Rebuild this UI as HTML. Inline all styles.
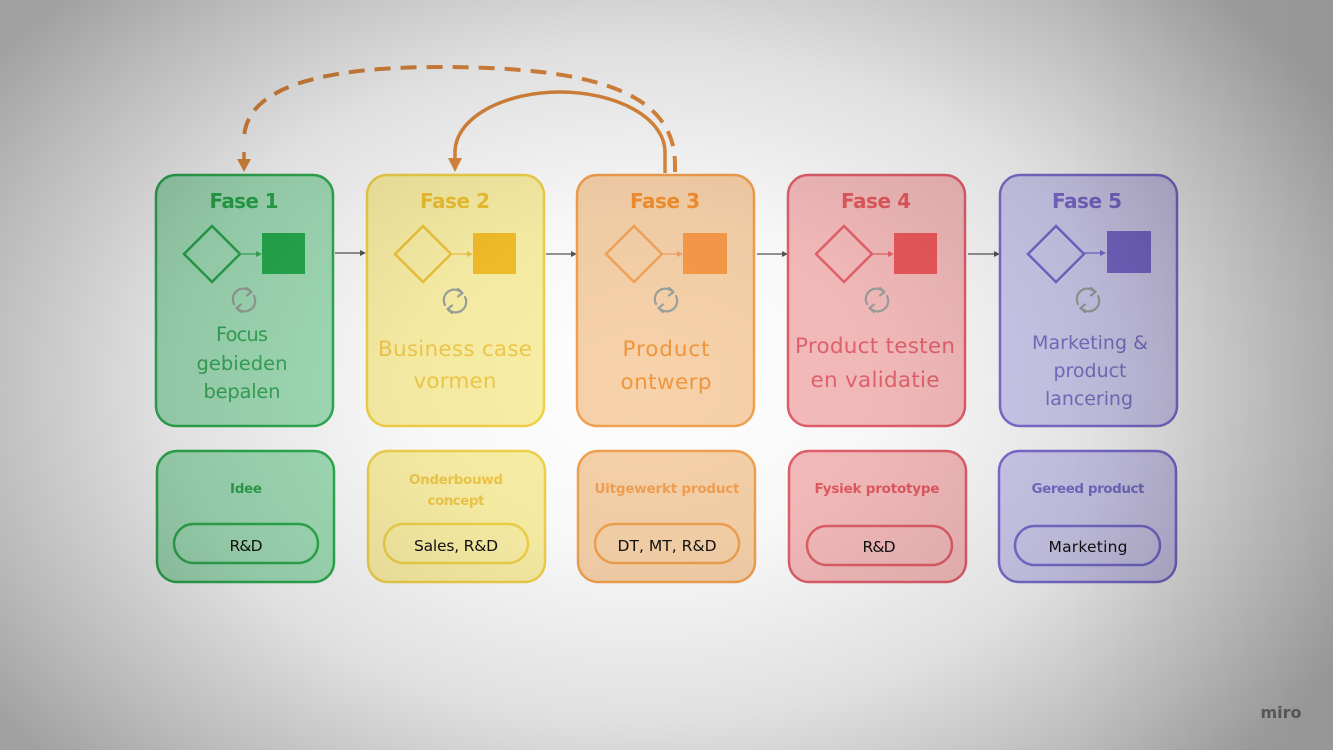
<!DOCTYPE html>
<html><head><meta charset="utf-8">
<style>
html,body{margin:0;padding:0;}
body{width:1333px;height:750px;overflow:hidden;background:#fff;position:relative;font-family:"DejaVu Sans","Liberation Sans",sans-serif;}
svg{position:absolute;left:0;top:0;}
svg text{font-family:"DejaVu Sans","Liberation Sans",sans-serif;}
#vig{position:absolute;left:0;top:0;width:1333px;height:750px;pointer-events:none;
background:
 linear-gradient(90deg, rgba(0,0,0,0) 80%, rgba(0,0,0,0.07) 100%),
 radial-gradient(ellipse 800px 560px at 645px 385px, rgba(0,0,0,0) 0%, rgba(0,0,0,0.03) 30%, rgba(0,0,0,0.12) 60%, rgba(0,0,0,0.27) 85%, rgba(0,0,0,0.37) 100%);}
</style></head><body>
<svg width="1333" height="750" viewBox="0 0 1333 750" xmlns="http://www.w3.org/2000/svg">
<defs>
<g id="ref" fill="none" stroke="#9aa29d" stroke-width="2.2" stroke-linecap="round" stroke-linejoin="round">
  <path d="M -10 4 A 10.5 10.5 0 0 1 7 -8"/>
  <path d="M 3 -12 L 7.5 -8 L 3 -4.5"/>
  <path d="M 10 -4 A 10.5 10.5 0 0 1 -7 8"/>
  <path d="M -3 12 L -7.5 8 L -3 4.5"/>
</g>
</defs>

<!-- arcs -->
<path d="M 675 172 L 675 165 C 675 96, 604 67, 440 67 C 303 67, 244 94, 244 140" fill="none" stroke="#e08a3e" stroke-width="4" stroke-dasharray="16 10"/>
<line x1="244" y1="152" x2="244" y2="162" stroke="#e08a3e" stroke-width="3.5"/>
<polygon points="237,159 251,159 244,172" fill="#e08a3e"/>
<path d="M 665 173 L 665 152 A 105 60 0 0 0 455 152 L 455 160" fill="none" stroke="#e08a3e" stroke-width="3.5"/>
<polygon points="448,158 462,158 455,172" fill="#e08a3e"/>

<!-- connectors between cards -->
<g stroke="#555" stroke-width="1.3" fill="#555">
  <line x1="335" y1="253" x2="361" y2="253"/><polygon points="360,250 366,253 360,256" stroke="none"/>
  <line x1="546" y1="254" x2="572" y2="254"/><polygon points="571,251 577,254 571,257" stroke="none"/>
  <line x1="757" y1="254" x2="783" y2="254"/><polygon points="782,251 788,254 782,257" stroke="none"/>
  <line x1="968" y1="254" x2="995" y2="254"/><polygon points="994,251 1000,254 994,257" stroke="none"/>
</g>

<!-- Card 1 -->
<rect x="156" y="175" width="177" height="251" rx="20" fill="#a5e2bb" stroke="#2fae52" stroke-width="2.5"/>
<text x="244" y="208" text-anchor="middle" font-size="20" font-weight="bold" fill="#28a84a" textLength="69">Fase 1</text>
<polygon points="212,226 240,254 212,282 184,254" fill="none" stroke="#2aa84e" stroke-width="2.5"/>
<line x1="240" y1="254" x2="257" y2="254" stroke="#3aae5a" stroke-width="1.2"/><polygon points="256,251 262,254 256,257" fill="#3aae5a"/>
<rect x="262" y="233" width="43" height="41" fill="#27ae4f"/>
<use href="#ref" x="244" y="300"/>
<g font-size="19.5" fill="#3aa85a" text-anchor="middle">
<text x="242" y="341" textLength="52">Focus</text>
<text x="242" y="370" textLength="91">gebieden</text>
<text x="242" y="398" textLength="77">bepalen</text>
</g>

<!-- Card 2 -->
<rect x="367" y="175" width="177" height="251" rx="20" fill="#fbf0a6" stroke="#f1d24a" stroke-width="2.5"/>
<text x="455" y="208" text-anchor="middle" font-size="20" font-weight="bold" fill="#f0c232" textLength="70">Fase 2</text>
<polygon points="423,226 451,254 423,282 395,254" fill="none" stroke="#efc43c" stroke-width="2.5"/>
<line x1="451" y1="254" x2="468" y2="254" stroke="#f0c444" stroke-width="1.2"/><polygon points="467,251 473,254 467,257" fill="#f0c444"/>
<rect x="473" y="233" width="43" height="41" fill="#f5bf2c"/>
<use href="#ref" x="455" y="301"/>
<g font-size="21.5" fill="#f1c94c" text-anchor="middle">
<text x="455" y="356" textLength="154">Business case</text>
<text x="455" y="388" textLength="83">vormen</text>
</g>

<!-- Card 3 -->
<rect x="577" y="175" width="177" height="251" rx="20" fill="#f7d2aa" stroke="#f2a150" stroke-width="2.5"/>
<text x="665" y="208" text-anchor="middle" font-size="20" font-weight="bold" fill="#f3902f" textLength="70">Fase 3</text>
<polygon points="634,226 662,254 634,282 606,254" fill="none" stroke="#f4a45a" stroke-width="2.5"/>
<line x1="662" y1="254" x2="678" y2="254" stroke="#f4a060" stroke-width="1.2"/><polygon points="677,251 683,254 677,257" fill="#f4a060"/>
<rect x="683" y="233" width="44" height="41" fill="#f89a4a"/>
<use href="#ref" x="666" y="300"/>
<g font-size="21.5" fill="#f0963e" text-anchor="middle">
<text x="666" y="356" textLength="87">Product</text>
<text x="666" y="389" textLength="91">ontwerp</text>
</g>

<!-- Card 4 -->
<rect x="788" y="175" width="177" height="251" rx="20" fill="#f8bdbd" stroke="#e2606a" stroke-width="2.5"/>
<text x="876" y="208" text-anchor="middle" font-size="20" font-weight="bold" fill="#e65a5e" textLength="70">Fase 4</text>
<polygon points="844,226 872,254 844,282 816,254" fill="none" stroke="#e8636b" stroke-width="2.5"/>
<line x1="872" y1="254" x2="889" y2="254" stroke="#e8646c" stroke-width="1.2"/><polygon points="888,251 894,254 888,257" fill="#e8646c"/>
<rect x="894" y="233" width="43" height="41" fill="#ef5a5c"/>
<use href="#ref" x="877" y="300"/>
<g font-size="21.5" fill="#e3636e" text-anchor="middle">
<text x="875" y="353" textLength="160">Product testen</text>
<text x="875" y="387" textLength="129">en validatie</text>
</g>

<!-- Card 5 -->
<rect x="1000" y="175" width="177" height="251" rx="20" fill="#d4d0f4" stroke="#7d70d4" stroke-width="2.5"/>
<text x="1087" y="208" text-anchor="middle" font-size="20" font-weight="bold" fill="#7a6bcf" textLength="70">Fase 5</text>
<polygon points="1056,226 1084,254 1056,282 1028,254" fill="none" stroke="#7a6cd2" stroke-width="2.5"/>
<line x1="1084" y1="253" x2="1101" y2="253" stroke="#7a6cd2" stroke-width="1.2"/><polygon points="1100,250 1106,253 1100,256" fill="#7a6cd2"/>
<rect x="1107" y="231" width="44" height="42" fill="#7b6ad0"/>
<use href="#ref" x="1088" y="300"/>
<g font-size="19" fill="#7d72c8" text-anchor="middle">
<text x="1090" y="349" textLength="116">Marketing &amp;</text>
<text x="1090" y="377" textLength="73">product</text>
<text x="1089" y="405" textLength="88">lancering</text>
</g>

<!-- Bottom cards -->
<rect x="157" y="451" width="177" height="131" rx="20" fill="#a5e2bb" stroke="#2fae52" stroke-width="2.5"/>
<text x="246" y="493" text-anchor="middle" font-size="13.5" font-weight="bold" fill="#2fa650" textLength="32">Idee</text>
<rect x="174" y="524" width="144" height="39" rx="19.5" fill="none" stroke="#2fae52" stroke-width="2.5"/>
<text x="246" y="551" text-anchor="middle" font-size="15.5" fill="#111" textLength="33">R&amp;D</text>

<rect x="368" y="451" width="177" height="131" rx="20" fill="#fbf0a6" stroke="#f1d24a" stroke-width="2.5"/>
<text x="456" y="484" text-anchor="middle" font-size="13.5" font-weight="bold" fill="#f0c84a" textLength="94">Onderbouwd</text>
<text x="456" y="505" text-anchor="middle" font-size="13.5" font-weight="bold" fill="#f0c84a" textLength="57">concept</text>
<rect x="384" y="524" width="144" height="39" rx="19.5" fill="none" stroke="#f1d24a" stroke-width="2.5"/>
<text x="456" y="551" text-anchor="middle" font-size="15.5" fill="#111" textLength="84">Sales, R&amp;D</text>

<rect x="578" y="451" width="177" height="131" rx="20" fill="#f7d2aa" stroke="#f2a150" stroke-width="2.5"/>
<text x="667" y="493" text-anchor="middle" font-size="13.5" font-weight="bold" fill="#f3a052" textLength="145">Uitgewerkt product</text>
<rect x="595" y="524" width="144" height="39" rx="19.5" fill="none" stroke="#f2a150" stroke-width="2.5"/>
<text x="667" y="551" text-anchor="middle" font-size="15.5" fill="#111" textLength="99">DT, MT, R&amp;D</text>

<rect x="789" y="451" width="177" height="131" rx="20" fill="#f8bdbd" stroke="#e2606a" stroke-width="2.5"/>
<text x="877" y="493" text-anchor="middle" font-size="13.5" font-weight="bold" fill="#e45a62" textLength="125">Fysiek prototype</text>
<rect x="807" y="526" width="145" height="39" rx="19.5" fill="none" stroke="#e2606a" stroke-width="2.5"/>
<text x="879" y="552" text-anchor="middle" font-size="15.5" fill="#111" textLength="33">R&amp;D</text>

<rect x="999" y="451" width="177" height="131" rx="20" fill="#d4d0f4" stroke="#7d70d4" stroke-width="2.5"/>
<text x="1088" y="493" text-anchor="middle" font-size="13.5" font-weight="bold" fill="#7b70cc" textLength="113">Gereed product</text>
<rect x="1015" y="526" width="145" height="39" rx="19.5" fill="none" stroke="#7d70d4" stroke-width="2.5"/>
<text x="1088" y="552" text-anchor="middle" font-size="15.5" fill="#111" textLength="79">Marketing</text>

<text x="1281" y="718" text-anchor="middle" font-size="16" font-weight="bold" fill="#8e8e8e">miro</text>
</svg>
<div id="vig"></div>
</body></html>
